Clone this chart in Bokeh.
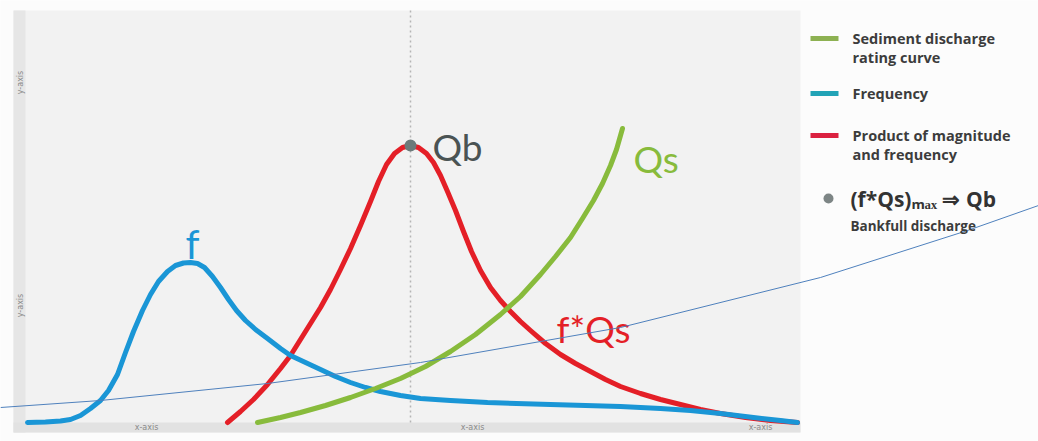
import numpy as np
from bokeh.plotting import figure
from bokeh.models import Range1d, BoxAnnotation
from bokeh.embed import file_html
from bokeh.resources import INLINE
from bokeh.core.properties import value

# ---------------- data (arbitrary discharge units 0-787 across the chart, magnitude units 0-410)
freq_x = [14, 32, 47, 57, 67, 77, 87, 95, 104, 112, 120, 129, 137, 145, 154, 162, 170, 177, 184,
          191, 199, 207, 215, 223, 232, 242, 254, 267, 277, 292, 307, 322, 337, 352, 367, 387,
          407, 437, 474, 537, 607, 647, 677, 707, 740, 767, 784]
freq_y = [0, 0.5, 1.5, 3, 7, 14, 22, 32, 48, 70, 91, 112, 128, 141, 151, 157, 159.5, 160, 159,
          155, 146, 135, 123, 112, 102, 93, 84, 74, 67, 60, 53, 46, 40, 35, 31, 27,
          24, 22, 20, 18, 16, 14, 12, 9, 5, 2, 0]

prod_x = [214, 227, 240, 254, 267, 277, 287, 297, 307, 317, 327, 337, 347, 357, 365, 373, 381, 389,
          397, 405, 413, 420, 427, 434, 442, 450, 458, 467, 477, 487, 497, 507, 517, 532, 547, 562,
          577, 592, 607, 627, 647, 667, 687, 707, 732, 757, 784]
prod_y = [0, 11, 23, 38, 54, 67, 83, 99, 115, 133, 153, 174, 197, 221, 241, 258, 269, 275,
          277, 275, 269, 260, 247, 231, 212, 191, 171, 152, 135, 122, 111, 101, 92, 79, 68, 59,
          51, 43, 36, 29, 23, 18, 13, 9, 5, 2, 0]

sed_x = [244, 267, 287, 312, 337, 362, 387, 412, 437, 462, 487, 507, 527, 542, 557, 569, 580, 589,
         597, 603, 609]
sed_y = [0, 5, 10, 17, 25, 34, 44, 56, 71, 88, 108, 126, 148, 166, 185, 204, 222, 239,
         257, 273, 294]

# stray annotation stroke across the slide
stroke_x = [-13, 87, 254, 407, 607, 807, 954, 1025]
stroke_y = [15, 22, 39, 60, 95, 145, 192, 217]

x_tick_pos = [133, 459, 747]
x_tick_labels = ["x-axis", "x-axis", "x-axis"]
y_tick_pos = [340, 117]
y_tick_labels = ["y-axis", "y-axis"]

legend_labels = ["Sediment discharge\nrating curve", "Frequency", "Product of magnitude\nand frequency"]
legend_colors = ["#8db152", "#22a3b6", "#db2140"]
legend_marker_label = "(f*Qs)ₘₐₓ ⇒ Qb"
legend_marker_note = "Bankfull discharge"

# ---------------- styles
BLUE = "#1a96d6"
RED = "#e41f27"
GREEN = "#88bb3c"
DOT = "#6c7a7a"
FONT = value("Lato")
LFONT = value("Open Sans")

p = figure(width=1038, height=441, x_range=Range1d(-13, 1025), y_range=Range1d(-19, 422),
           output_backend="svg", toolbar_location=None, min_border=0,
           x_axis_location=None, y_axis_location=None)
p.grid.visible = False
p.outline_line_color = None
p.background_fill_color = "#fcfcfc"
p.border_fill_color = "#fcfcfc"

# chart panel and axis strips
PX0, PX1, PY0, PY1 = 0, 787, -10, 412
p.add_layout(BoxAnnotation(left=PX0, right=PX1, bottom=PY0, top=PY1, fill_color="#f2f2f2",
                           fill_alpha=1, line_color=None, level="underlay"))
p.add_layout(BoxAnnotation(left=PX0, right=12, bottom=PY0, top=PY1, fill_color="#e6e6e6",
                           fill_alpha=1, line_color=None, level="underlay"))
p.add_layout(BoxAnnotation(left=PX0, right=PX1, bottom=PY0, top=0, fill_color="#e2e2e2",
                           fill_alpha=1, line_color=None, level="underlay"))

p.text(x=x_tick_pos, y=[-5] * len(x_tick_pos), text=x_tick_labels, text_font_size="8px",
       text_color="#8a8a8a", text_align="center", text_baseline="middle", text_font=value("DejaVu Sans"))
p.text(x=[6.5] * len(y_tick_pos), y=y_tick_pos, text=y_tick_labels, text_font_size="8px",
       text_color="#8a8a8a", text_align="center", text_baseline="middle", angle=np.pi / 2,
       text_font=value("DejaVu Sans"))

# bankfull marker position = maximum of the product curve
imax = int(np.argmax(prod_y))
qb_x, qb_y = prod_x[imax], prod_y[imax]
p.segment(x0=[qb_x], y0=[0], x1=[qb_x], y1=[PY1], line_color="#b5b5b5", line_width=1.5,
          line_dash="2 3")

# curves
p.line(prod_x, prod_y, line_color=RED, line_width=5, line_cap="round", line_join="round")
p.line(freq_x, freq_y, line_color=BLUE, line_width=5, line_cap="round", line_join="round")
p.line(sed_x, sed_y, line_color=GREEN, line_width=5, line_cap="round", line_join="round")
p.scatter([qb_x], [qb_y], size=12, fill_color=DOT, line_color=None)

# curve labels, placed relative to the data
ifmax = int(np.argmax(freq_y))
p.text(x=[freq_x[ifmax] + 2], y=[freq_y[ifmax] + 19], text=["f"], text_font=FONT, text_font_size="40px",
       text_color=BLUE, text_align="center", text_baseline="middle")
p.text(x=[qb_x + 22], y=[qb_y - 1], text=["Qb"], text_font=FONT, text_font_size="37px",
       text_color="#4a5353", text_align="left", text_baseline="middle")
p.text(x=[sed_x[-1] + 11], y=[sed_y[-1] - 30], text=["Qs"], text_font=FONT, text_font_size="37px",
       text_color=GREEN, text_align="left", text_baseline="middle")
p.text(x=[543], y=[94], text=["f*Qs"], text_font=FONT, text_font_size="37px",
       text_color=RED, text_align="left", text_baseline="middle")

# stray stroke
p.line(stroke_x, stroke_y, line_color="#4f81bd", line_width=1)

# legend (drawn manually at the right of the chart panel)
sw_x0, sw_x1, tx = 797, 825, 839
row_y = [384, 329, 287]
p.segment(x0=[sw_x0] * 3, y0=row_y, x1=[sw_x1] * 3, y1=row_y, line_color=legend_colors, line_width=5)
p.text(x=[tx] * 3, y=[y + 10 for y in row_y], text=legend_labels, text_font=LFONT, text_font_size="14.5px",
       text_font_style="bold", text_color="#3c3c3c", text_align="left", text_baseline="top",
       text_line_height=1.0)
mark_y = 224
p.scatter([sw_x0 + 18], [mark_y], size=10, fill_color="#7d8585", line_color=None)
p.text(x=[tx - 2], y=[mark_y], text=[legend_marker_label], text_font=LFONT, text_font_size="21px",
       text_font_style="bold", text_color="#333333", text_align="left", text_baseline="middle")
p.text(x=[tx - 2], y=[mark_y - 27], text=[legend_marker_note], text_font=LFONT, text_font_size="13.5px",
       text_font_style="bold", text_color="#3c3c3c", text_align="left", text_baseline="middle")

open("out.html", "w").write(file_html(p, INLINE))
